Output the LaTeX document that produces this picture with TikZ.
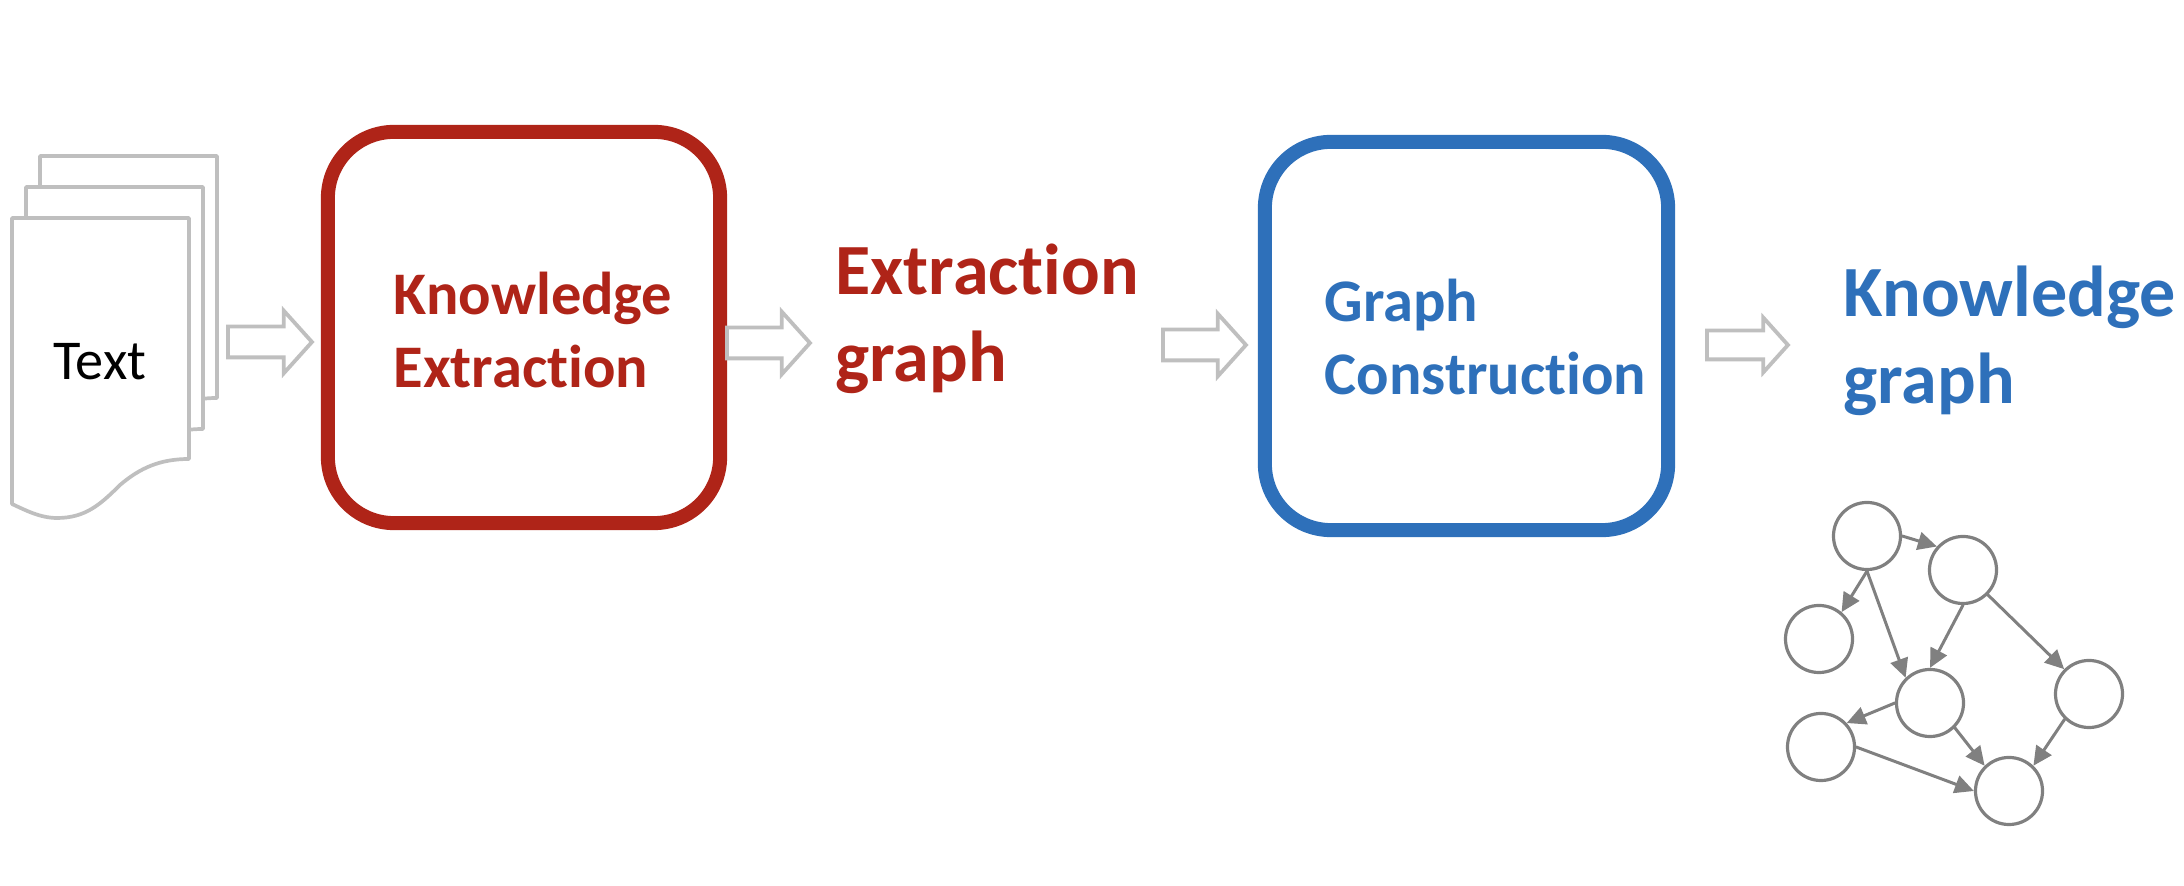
\documentclass[tikz,border=0pt]{standalone}
\usepackage{fontspec}
\setmainfont{Carlito}[Ligatures=NoCommon]
\usetikzlibrary{arrows.meta,shapes.arrows}

\definecolor{extractred}{HTML}{AF2418}
\definecolor{graphblue}{HTML}{2E70BA}
\definecolor{pagegray}{HTML}{BFBFBF}
\definecolor{kggray}{HTML}{808080}

\begin{document}
\begin{tikzpicture}
		[x=0.01cm,y=-0.01cm,line cap=round,
		%Styles
		page/.style={draw=pagegray,line width=.037cm,fill=white,line join=round},
		stepbox/.style={draw=#1,line width=.14cm,rounded corners=.66cm,minimum width=3.92cm,inner sep=0pt},
		boxtext/.style={text=#1,font=\fontsize{17.2}{21}\selectfont\bfseries,align=left,anchor=base west,inner sep=0pt},
		bigtext/.style={text=#1,font=\fontsize{20.5}{25}\selectfont\bfseries,align=left,anchor=base west,inner sep=0pt},
		hollow/.style={shape=single arrow,draw=pagegray,line width=.038cm,fill=white,anchor=west,
			inner xsep=0pt,inner ysep=.135cm,single arrow head indent=0pt,single arrow tip angle=96,
			single arrow head extend=.16cm,minimum width=.59cm},
		vertex/.style={circle,draw=kggray,line width=.032cm,minimum size=.67cm,inner sep=0pt},
		kglink/.style={-{Triangle[length=.19cm,width=.18cm]},draw=kggray,line width=.03cm}
		]
		\useasboundingbox (0,0) rectangle (2184,886);
		
		%The pages
		\draw[page] (40,156) -- (217,156) -- (217,398) .. controls (188,398) and (168,407) .. (148,424) -- (40,424) -- cycle;
		\draw[page] (26,187) -- (203,187) -- (203,429) .. controls (174,429) and (154,438) .. (134,455) -- (26,455) -- cycle;
		\draw[page] (12,218) -- (189,218) -- (189,459) .. controls (160,459) and (140,468) .. (120,485) .. controls (100,505) and (85,518) .. (57,518) .. controls (40,518) and (25,510) .. (12,504) -- cycle;
		\node (text) at (100,362) {\fontsize{16}{19}\selectfont Text};
		
		%The boxes
		\node[stepbox=extractred,minimum height=3.91cm] (extractbox) at (524,327.5) {};
		\node[stepbox=graphblue,minimum height=3.88cm,minimum width=4.03cm] (graphbox) at (1466.5,336) {};
		\node[boxtext=extractred] (extractlabel) at (393,388) {Knowledge\\Extraction};
		\node[boxtext=graphblue] (graphlabel) at (1324,395) {Graph\\Construction};
		
		%The arrows
		\node[hollow,minimum height=.84cm] (arrowa) at (226,342) {};
		\node[hollow,minimum height=.83cm] (arrowb) at (725,343) {};
		\node[hollow,minimum height=.83cm] (arrowc) at (1161,345) {};
		\node[hollow,minimum height=.81cm,minimum width=.52cm,single arrow head extend=.13cm,inner ysep=.125cm] (arrowd) at (1705,345) {};
		
		%The results
		\node[bigtext=extractred] (extractgraph) at (835,382) {Extraction\\graph};
		\node[bigtext=graphblue] (knowgraph) at (1843,404) {Knowledge\\graph};
		
		%The small graph
		\node[vertex] (ka) at (1867,536) {};
		\node[vertex] (kb) at (1963,570) {};
		\node[vertex] (kc) at (1819,639) {};
		\node[vertex] (kd) at (1930,703) {};
		\node[vertex] (ke) at (2089,694) {};
		\node[vertex] (kf) at (1821,747) {};
		\node[vertex] (kg) at (2009,791) {};
		\draw[kglink] (ka.east) -- (kb.138);
		\draw[kglink] (ka.south) -- (kc.50);
		\draw[kglink] (ka.south) -- (kd.134);
		\draw[kglink] (kb.south) -- (kd.north);
		\draw[kglink] (kb.-45) -- (ke.135);
		\draw[kglink] (kd.west) -- (kf.43);
		\draw[kglink] (kd.-45) -- (kg.134);
		\draw[kglink] (ke.-134) -- (kg.46);
		\draw[kglink] (kf.east) -- (kg.west);
	\end{tikzpicture}
\end{document}
